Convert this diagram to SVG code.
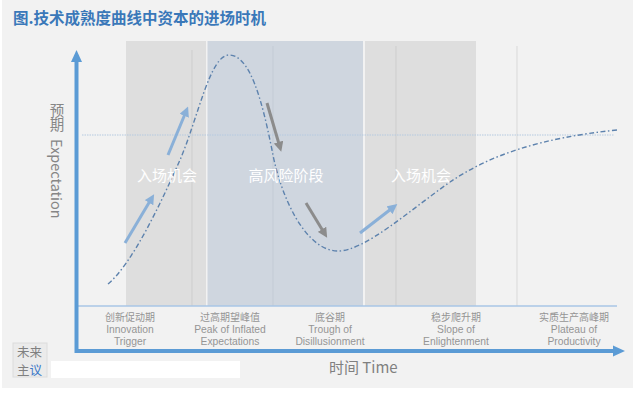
<svg xmlns="http://www.w3.org/2000/svg" width="633" height="393" viewBox="0 0 633 393">
<defs>
<style>
.cjk{font-family:"Noto Sans CJK SC","Liberation Sans",sans-serif}
.stage{font-family:"Noto Sans CJK SC","Liberation Sans",sans-serif;font-size:10px;fill:#959595;text-anchor:middle}
.stage-en{font-family:"Liberation Sans",Arial,sans-serif;font-size:10.3px;fill:#959595;text-anchor:middle}
.over{font-family:"Noto Sans CJK SC",sans-serif;font-size:15px;fill:#ffffff;text-anchor:middle}
.vline{stroke:#cdcdcd;stroke-width:1}
.barr{stroke:#8ab0d8;stroke-width:3;fill:none}
.garr{stroke:#8c8c8c;stroke-width:3;fill:none}
.axis{stroke:#5b9bd5;stroke-width:4;fill:none}
</style>
<marker id="mb" viewBox="0 0 10 10" refX="2" refY="5" markerWidth="10" markerHeight="10" markerUnits="userSpaceOnUse" orient="auto"><path d="M0,0 L10,5 L0,10 z" fill="#8ab0d8"/></marker>
<marker id="mg" viewBox="0 0 10 10" refX="2" refY="5" markerWidth="10" markerHeight="10" markerUnits="userSpaceOnUse" orient="auto"><path d="M0,0 L10,5 L0,10 z" fill="#8c8c8c"/></marker>
</defs>
<rect x="0" y="0" width="633" height="393" fill="#ffffff"/>
<rect x="2" y="0" width="631" height="388" fill="#f2f2f2"/>
<text x="13" y="24" class="cjk" font-size="15.5" font-weight="bold" fill="#3a78b9">图.技术成熟度曲线中资本的进场时机</text>

<g id="bands">
<rect x="126" y="41" width="80" height="265" fill="#dedede"/>
<rect x="207.5" y="41" width="155.5" height="265" fill="#cfd6df"/>
<rect x="365" y="41" width="111" height="265" fill="#dedede"/>
<line class="vline" x1="192" y1="50" x2="192" y2="306"/>
<line x1="273" y1="46" x2="273" y2="306" stroke="#c3cbd5" stroke-width="1"/>
<line class="vline" x1="396" y1="46" x2="396" y2="306"/>
<line x1="517" y1="46" x2="517" y2="306" stroke="#d9d9d9" stroke-width="1"/>
</g>

<line x1="82" y1="135" x2="614" y2="135" stroke="#b4c9e0" stroke-width="1" stroke-dasharray="1.5 1"/>

<g id="axes">
<line x1="76" y1="306" x2="617" y2="306" stroke="#a9c6e6" stroke-width="1.5"/>
<path class="axis" d="M76.5,60 L76.5,351 L614,351"/>
<path d="M71,62 L76.5,50 L82,62 z" fill="#5b9bd5"/>
<path d="M613,345.5 L625,351 L613,356.5 z" fill="#5b9bd5"/>
</g>

<g id="curve">
<path d="M108,284 C132,264 160,205 180,160 C198,118 210,55 229,55 C250,55 262,100 272,150 C280,195 305,251 338,251 C365,251 410,210 450,182 C490,155 540,138 617,130" fill="none" stroke="#5d82ad" stroke-width="1.4" stroke-dasharray="5 2.5 1.5 2.5"/>
</g>

<g id="connectors">
<line class="barr" x1="125" y1="243" x2="150" y2="201" marker-end="url(#mb)"/>
<line class="barr" x1="168" y1="155" x2="185" y2="114" marker-end="url(#mb)"/>
<line class="barr" x1="360" y1="233" x2="391" y2="209" marker-end="url(#mb)"/>
<line class="garr" x1="267" y1="103" x2="279" y2="144" marker-end="url(#mg)"/>
<line class="garr" x1="306" y1="203" x2="323" y2="231" marker-end="url(#mg)"/>
</g>

<g id="overlay-labels">
<text class="over" x="167" y="181">入场机会</text>
<text class="over" x="286" y="181">高风险阶段</text>
<text class="over" x="421" y="181">入场机会</text>
</g>

<g id="ylabel">
<text x="57" y="103" class="cjk" font-size="14.5" fill="#868686" style="writing-mode:vertical-rl">预期 <tspan dy="4">Expectation</tspan></text>
</g>

<g id="stage-innovation">
<text class="stage" x="130" y="320.5">创新促动期</text>
<text class="stage-en" x="130" y="333">Innovation</text>
<text class="stage-en" x="130" y="345">Trigger</text>
</g>
<g id="stage-peak">
<text class="stage" x="230" y="320.5">过高期望峰值</text>
<text class="stage-en" x="230" y="333">Peak of Inflated</text>
<text class="stage-en" x="230" y="345">Expectations</text>
</g>
<g id="stage-trough">
<text class="stage" x="330" y="320.5">底谷期</text>
<text class="stage-en" x="330" y="333">Trough of</text>
<text class="stage-en" x="330" y="345">Disillusionment</text>
</g>
<g id="stage-slope">
<text class="stage" x="456" y="320.5">稳步爬升期</text>
<text class="stage-en" x="456" y="333">Slope of</text>
<text class="stage-en" x="456" y="345">Enlightenment</text>
</g>
<g id="stage-plateau">
<text class="stage" x="574" y="320.5">实质生产高峰期</text>
<text class="stage-en" x="574" y="333">Plateau of</text>
<text class="stage-en" x="574" y="345">Productivity</text>
</g>

<text x="329" y="373" class="cjk" font-size="15" fill="#808080">时间 Time</text>

<g id="logo">
<rect x="13" y="343" width="34" height="34" fill="#ebebeb" stroke="#dcdcdc" stroke-width="1"/>
<text x="17" y="356.5" class="cjk" font-size="12.5" fill="#808080">未来</text>
<text x="17" y="375" class="cjk" font-size="12.5" fill="#808080">主<tspan fill="#3a78c8">议</tspan></text>
<rect x="51" y="361" width="189" height="17" fill="#ffffff"/>
</g>
</svg>
